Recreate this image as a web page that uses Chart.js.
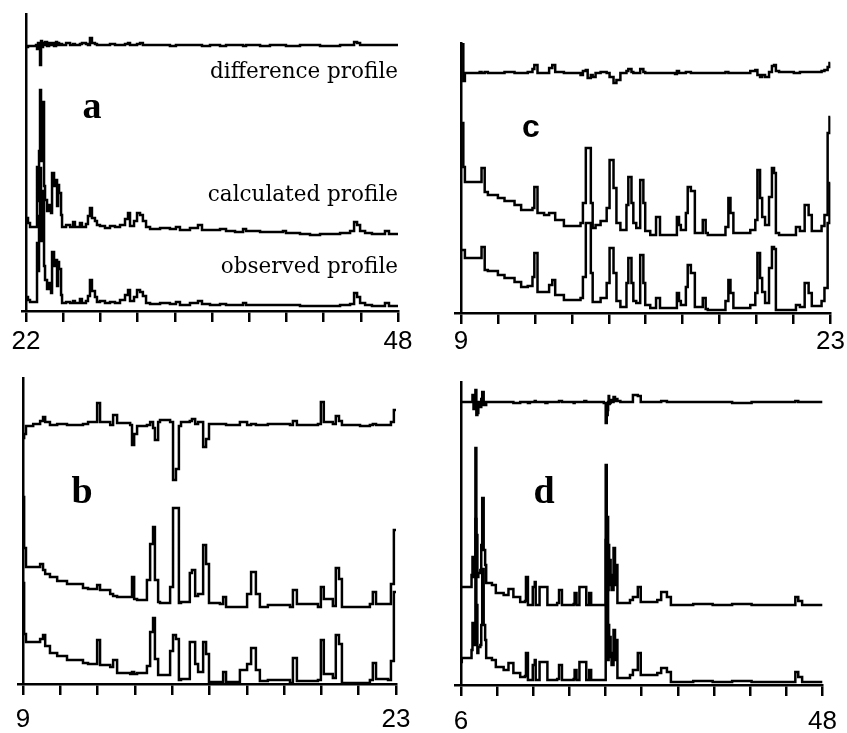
<!DOCTYPE html>
<html>
<head>
<meta charset="utf-8">
<script src="https://cdn.jsdelivr.net/npm/chart.js@4.4.0/dist/chart.umd.min.js"></script>
<style>
  html, body { margin: 0; padding: 0; background: #fff; overflow: hidden; }
  canvas { position: absolute; left: 0; top: 0; display: block; }
</style>
</head>
<body>
<canvas id="chartA" width="847" height="733"></canvas>
<canvas id="chartB" width="847" height="733"></canvas>
<canvas id="chartC" width="847" height="733"></canvas>
<canvas id="chartD" width="847" height="733"></canvas>
<script>
// Panel a : 2θ 22 - 48
const ticksA = [22, 24.6, 27.2, 29.8, 32.4, 35, 37.6, 40.2, 42.8, 45.4, 48];
const thetaA = [22.00, 22.14, 22.28, 22.70, 22.77, 22.84, 22.91, 22.98, 23.05, 23.12,
    23.19, 23.26, 23.33, 23.47, 23.61, 23.75, 23.82, 23.96, 24.10, 24.17,
    24.24, 24.31, 24.45, 24.52, 24.80, 25.08, 25.29, 25.42, 25.77, 25.91,
    26.19, 26.33, 26.47, 26.61, 26.82, 26.96, 27.17, 27.52, 27.87, 28.22,
    28.57, 28.92, 29.13, 29.27, 29.55, 29.76, 29.97, 30.17, 30.39, 30.67,
    31.37, 32.06, 32.48, 32.76, 33.46, 34.02, 34.30, 34.86, 35.56, 35.98,
    36.61, 37.17, 37.38, 38.36, 39.05, 39.96, 40.17, 41.15, 41.85, 42.55,
    43.95, 44.65, 44.93, 45.14, 45.35, 45.70, 46.18, 47.09, 47.37, 48.00];
const calcA = [93, 88, 84, 84, 144, 110, 160, 221, 150, 185,
    209, 125, 111, 100, 106, 98, 138, 125, 131, 105,
    126, 118, 96, 84, 86, 84, 89, 84, 88, 84,
    87, 95, 103, 93, 90, 86, 85, 83, 85, 84,
    86, 92, 98, 85, 90, 98, 96, 90, 84, 82,
    83, 82, 84, 81, 83, 86, 81, 81, 82, 80,
    79, 82, 80, 79, 79, 80, 78, 77, 76, 77,
    78, 80, 89, 86, 80, 78, 77, 80, 77, 77];
const obsA = [14, 11, 9, 9, 68, 40, 95, 143, 70, 110,
    120, 45, 31, 22, 28, 18, 59, 45, 51, 25,
    49, 42, 16, 8, 9, 8, 10, 8, 12, 8,
    10, 15, 31, 20, 14, 9, 10, 8, 9, 8,
    11, 16, 21, 10, 14, 21, 19, 15, 8, 7,
    8, 7, 9, 6, 8, 10, 7, 6, 7, 6,
    6, 8, 6, 6, 6, 6, 6, 5, 5, 5,
    6, 7, 18, 14, 8, 6, 5, 8, 5, 5];
const diffA = [264, 265, 265, 266, 262, 268, 263, 246, 270, 264,
    268, 266, 269, 265, 268, 266, 268, 265, 269, 266,
    268, 266, 267, 266, 268, 266, 267, 266, 267, 268,
    267, 266, 273, 268, 267, 266, 266, 266, 267, 266,
    266, 267, 268, 266, 266, 267, 268, 266, 266, 266,
    266, 265, 266, 266, 266, 266, 265, 266, 265, 266,
    266, 265, 266, 265, 266, 266, 265, 266, 266, 265,
    266, 266, 269, 268, 266, 266, 266, 266, 266, 266];

// Panel b : 2θ 9 - 23
const ticksB = [9, 10.4, 11.8, 13.2, 14.6, 16, 17.4, 18.8, 20.2, 21.6, 23];
const thetaB = [9.00, 9.04, 9.11, 9.38, 9.64, 9.75, 9.83, 10.01, 10.28, 10.65,
    11.25, 11.44, 11.78, 11.89, 12.27, 12.38, 12.53, 13.02, 13.09, 13.17,
    13.28, 13.65, 13.77, 13.88, 13.95, 14.07, 14.14, 14.52, 14.63, 14.74,
    14.85, 14.93, 15.26, 15.34, 15.46, 15.57, 15.76, 15.87, 15.98, 16.39,
    16.51, 16.62, 17.14, 17.41, 17.56, 17.74, 17.89, 18.19, 19.02, 19.13,
    19.28, 20.07, 20.18, 20.29, 20.63, 20.74, 20.86, 20.97, 21.65, 22.02,
    22.13, 22.25, 22.70, 22.81, 22.92, 23.00];
const calcB = [187, 136, 117, 117, 120, 114, 110, 107, 103, 100,
    96, 95, 99, 94, 90, 88, 87, 87, 107, 85,
    84, 104, 140, 157, 104, 82, 81, 97, 176, 176,
    81, 82, 111, 114, 88, 90, 139, 120, 81, 80,
    87, 77, 77, 90, 112, 90, 77, 79, 77, 94,
    80, 77, 97, 85, 78, 116, 105, 77, 77, 80,
    92, 80, 80, 100, 154, 154];
const obsB = [101, 50, 42, 42, 45, 49, 38, 31, 28, 24,
    21, 20, 44, 19, 17, 24, 11, 10, 12, 10,
    11, 18, 52, 66, 25, 9, 9, 33, 49, 45,
    4, 5, 42, 42, 20, 12, 42, 30, 2, 2,
    12, 2, 14, 20, 36, 14, 3, 4, 1, 26,
    3, 4, 44, 10, 6, 49, 40, 1, 1, 4,
    21, 5, 4, 23, 92, 92];
const diffB = [246, 250, 258, 260, 263, 267, 262, 259, 260, 259,
    260, 262, 281, 262, 259, 269, 261, 259, 239, 250,
    258, 259, 262, 256, 244, 262, 264, 262, 204, 215,
    258, 262, 263, 265, 260, 262, 237, 245, 260, 260,
    260, 259, 262, 259, 260, 259, 259, 260, 259, 263,
    259, 260, 282, 262, 260, 268, 263, 259, 258, 259,
    260, 259, 259, 262, 274, 274];

// Panel c : 2θ 9 - 23
const ticksC = [9, 10.4, 11.8, 13.2, 14.6, 16, 17.4, 18.8, 20.2, 21.6, 23];
const thetaC = [9.00, 9.09, 9.15, 9.71, 9.78, 9.90, 10.02, 10.40, 10.65, 11.03,
    11.28, 11.53, 11.71, 11.78, 11.90, 12.15, 12.34, 12.46, 12.57, 12.90,
    13.53, 13.62, 13.73, 13.80, 13.92, 13.99, 14.10, 14.29, 14.52, 14.63,
    14.78, 14.89, 15.04, 15.27, 15.34, 15.46, 15.53, 15.64, 15.79, 15.91,
    15.98, 16.17, 16.39, 16.54, 17.11, 17.18, 17.26, 17.33, 17.52, 17.59,
    17.71, 17.86, 18.16, 18.27, 18.35, 19.02, 19.13, 19.21, 19.32, 19.96,
    20.15, 20.23, 20.33, 20.41, 20.52, 20.67, 20.78, 20.86, 20.93, 21.05,
    21.61, 21.69, 21.84, 22.02, 22.17, 22.29, 22.66, 22.77, 22.89, 22.96, 23.00];
const calcC = [190, 146, 131, 131, 145, 121, 118, 115, 112, 108,
    103, 103, 105, 126, 100, 98, 100, 100, 93, 87,
    90, 110, 165, 165, 110, 85, 88, 92, 105, 153,
    125, 90, 83, 108, 136, 110, 90, 85, 133, 110,
    82, 78, 96, 78, 78, 96, 88, 83, 100, 126,
    122, 80, 93, 80, 78, 86, 115, 100, 80, 83,
    93, 143, 115, 96, 88, 116, 145, 140, 80, 78,
    78, 86, 82, 108, 98, 82, 87, 98, 180, 196, 196];
const obsC = [63, 63, 55, 55, 66, 43, 42, 38, 35, 31,
    26, 27, 36, 60, 21, 21, 28, 33, 18, 13,
    15, 36, 90, 90, 40, 11, 11, 15, 30, 65,
    40, 12, 6, 30, 55, 30, 12, 10, 58, 30,
    8, 5, 15, 5, 5, 20, 12, 8, 26, 48,
    40, 6, 15, 4, 3, 12, 33, 20, 5, 8,
    20, 60, 35, 21, 10, 45, 66, 64, 3, 3,
    3, 8, 6, 30, 20, 7, 12, 25, 90, 130, 130];
const diffC = [270, 232, 240, 241, 240, 241, 240, 240, 241, 240,
    240, 241, 244, 248, 240, 240, 245, 248, 241, 240,
    238, 242, 243, 235, 238, 236, 240, 241, 240, 236,
    230, 233, 240, 242, 244, 241, 240, 240, 244, 241,
    240, 240, 240, 240, 239, 242, 240, 240, 241, 241,
    240, 240, 240, 240, 240, 241, 240, 240, 240, 242,
    243, 238, 236, 238, 236, 241, 247, 248, 242, 241,
    240, 240, 241, 241, 241, 241, 242, 243, 246, 250, 250];

// Panel d : 2θ 6 - 48
const ticksD = [6, 10.2, 14.4, 18.6, 22.8, 27, 31.2, 35.4, 39.6, 43.8, 48];
const thetaD = [6.00, 6.11, 7.24, 7.35, 7.47, 7.69, 7.80, 7.92, 8.03, 8.26,
    8.37, 8.48, 8.65, 8.82, 8.94, 9.61, 10.06, 10.97, 11.53, 12.10,
    12.89, 13.45, 13.56, 13.79, 14.02, 14.35, 14.58, 14.69, 15.14, 15.82,
    16.05, 17.18, 17.40, 17.74, 19.10, 19.21, 19.43, 19.77, 20.34, 20.56,
    20.90, 21.13, 22.60, 22.82, 22.94, 23.05, 23.10, 23.16, 23.22, 23.28,
    23.39, 23.50, 23.73, 23.90, 24.06, 24.18, 24.52, 25.64, 25.98, 26.55,
    26.89, 28.81, 29.26, 29.93, 30.39, 32.98, 35.24, 37.50, 39.76, 42.01,
    44.61, 44.84, 45.18, 45.63, 48.00];
const calcD = [98, 98, 110, 128, 108, 237, 150, 108, 112, 115,
    140, 187, 135, 120, 102, 100, 92, 90, 96, 88,
    83, 84, 108, 80, 80, 98, 103, 80, 98, 98,
    80, 82, 95, 80, 81, 92, 80, 98, 98, 80,
    92, 80, 80, 220, 150, 168, 95, 140, 100, 125,
    110, 95, 137, 100, 120, 82, 82, 85, 88, 98,
    83, 85, 93, 88, 80, 81, 80, 81, 80, 80,
    80, 88, 84, 80, 80];
const obsD = [23, 27, 35, 62, 40, 166, 80, 32, 38, 40,
    60, 116, 60, 45, 27, 25, 18, 15, 22, 12,
    8, 9, 32, 5, 5, 20, 25, 5, 23, 23,
    5, 6, 20, 5, 6, 15, 5, 23, 23, 5,
    15, 5, 5, 145, 80, 95, 25, 60, 28, 48,
    32, 20, 55, 25, 45, 7, 7, 10, 15, 32,
    10, 12, 17, 13, 3, 4, 3, 4, 3, 3,
    3, 13, 8, 3, 3];
const diffD = [283, 283, 283, 290, 276, 295, 270, 272, 283, 278,
    286, 293, 280, 280, 283, 283, 283, 283, 283, 282,
    283, 283, 283, 282, 283, 283, 284, 283, 283, 282,
    283, 283, 284, 283, 282, 283, 283, 283, 284, 283,
    283, 283, 282, 262, 270, 275, 283, 289, 281, 282,
    285, 283, 288, 284, 286, 284, 283, 283, 290, 289,
    283, 283, 284, 283, 283, 283, 283, 282, 283, 283,
    283, 284, 283, 283, 283];

const W = 847, H = 733, AXIS_H = 50;
const LINE_W = 2.5;
const labelSerif = '21.5px "DejaVu Serif"';
const letterSerif = 'bold 38px "Liberation Serif"';

// plain text drawn on top of each panel
const panelText = (texts) => ({
    id: 'panelText',
    afterDraw(chart) {
        const ctx = chart.ctx;
        ctx.save();
        ctx.fillStyle = '#000';
        ctx.textBaseline = 'alphabetic';
        texts.forEach(t => {
            ctx.font = t.font;
            ctx.textAlign = t.align;
            ctx.fillText(t.text, t.x, t.y);
        });
        ctx.restore();
    }
});

function drawPanel(id, p) {
    const profile = (ys) => ({
        data: p.theta.map((t, i) => ({ x: t, y: ys[i] })),
        borderColor: '#000',
        borderWidth: LINE_W,
        pointRadius: 0,
        stepped: true,
        fill: false
    });
    new Chart(document.getElementById(id), {
        type: 'line',
        data: { datasets: [profile(p.diff), profile(p.calc), profile(p.obs)] },
        options: {
            responsive: false,
            animation: false,
            devicePixelRatio: 1,
            layout: {
                padding: { left: p.box[0], top: p.box[1], right: W - p.box[2], bottom: H - p.box[3] - AXIS_H }
            },
            plugins: { legend: { display: false }, tooltip: { enabled: false } },
            scales: {
                x: {
                    type: 'linear',
                    min: p.xMin,
                    max: p.ticks[p.ticks.length - 1],
                    afterBuildTicks: (ax) => { ax.ticks = p.ticks.map(v => ({ value: v })); },
                    afterFit: (ax) => { ax.height = AXIS_H; },
                    ticks: {
                        autoSkip: false,
                        maxRotation: 0,
                        padding: p.labelPad,
                        color: '#000',
                        font: { family: 'Liberation Sans', size: 26 },
                        callback: (v, i, arr) => (i === 0 || i === arr.length - 1) ? String(v) : ''
                    },
                    grid: { drawOnChartArea: false, drawTicks: true, tickLength: 11, color: '#000', lineWidth: 2.5 },
                    border: { display: true, color: '#000', width: 2.5 }
                },
                y: {
                    min: 0,
                    max: p.yMax,
                    position: { x: p.ticks[0] },
                    ticks: { display: false },
                    grid: { display: false, drawTicks: false },
                    border: { display: true, color: '#000', width: 2.5 }
                }
            }
        },
        plugins: [panelText(p.texts)]
    });
}

drawPanel('chartA', {
    theta: thetaA, calc: calcA, obs: obsA, diff: diffA, ticks: ticksA,
    xMin: 21.72, yMax: 297, box: [22, 14, 398, 311], labelPad: 4,
    texts: [
        { text: 'difference profile', x: 398, y: 78, align: 'right', font: labelSerif },
        { text: 'calculated profile', x: 398, y: 201, align: 'right', font: labelSerif },
        { text: 'observed profile', x: 398, y: 273, align: 'right', font: labelSerif },
        { text: 'a', x: 92, y: 118, align: 'center', font: letterSerif }
    ]
});

drawPanel('chartB', {
    theta: thetaB, calc: calcB, obs: obsB, diff: diffB, ticks: ticksB,
    xMin: 8.81, yMax: 306, box: [18, 378, 396, 684], labelPad: 9,
    texts: [{ text: 'b', x: 82, y: 503, align: 'center', font: letterSerif }]
});

drawPanel('chartC', {
    theta: thetaC, calc: calcC, obs: obsC, diff: diffC, ticks: ticksC,
    xMin: 8.775, yMax: 270, box: [455, 43, 834, 313], labelPad: 2,
    texts: [{ text: 'c', x: 531, y: 137, align: 'center', font: 'bold 32px "Liberation Sans"' }]
});

drawPanel('chartD', {
    theta: thetaD, calc: calcD, obs: obsD, diff: diffD, ticks: ticksD,
    xMin: 5.32, yMax: 303, box: [455, 382, 833, 685], labelPad: 10,
    texts: [{ text: 'd', x: 544, y: 503, align: 'center', font: letterSerif }]
});
</script>
</body>
</html>
